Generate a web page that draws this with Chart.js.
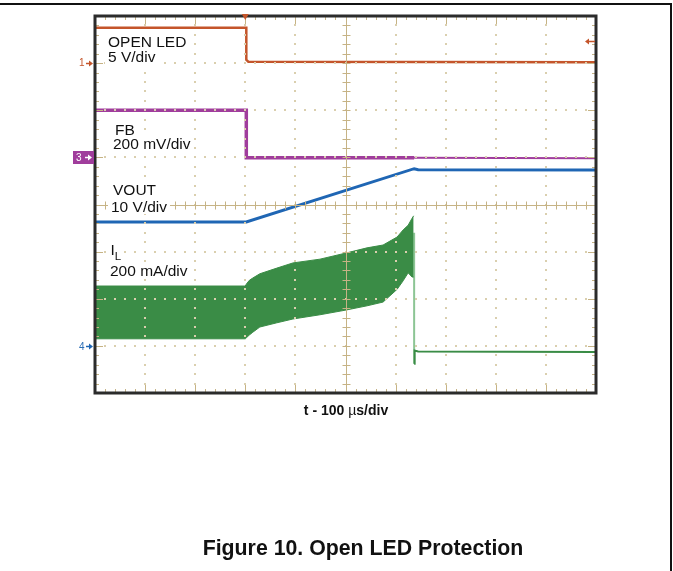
<!DOCTYPE html>
<html>
<head>
<meta charset="utf-8">
<script src="https://cdn.jsdelivr.net/npm/chart.js@4"></script>
<style>
  body { margin: 0; background: #fff; }
  #wrap { position: relative; width: 673px; height: 571px; overflow: hidden; font-family: Arial, "Liberation Sans", sans-serif; }
  #c { position: absolute; left: 0; top: 0; }
  .lbl { position: absolute; font-size: 15.5px; line-height: 15.5px; color: #111; background: #fff; padding: 0 3px; white-space: nowrap; }
  .lbl sub { font-size: 11.5px; vertical-align: -5px; line-height: 0; }
  .mk { position: absolute; font-size: 10px; line-height: 10px; }
  .rule-top { position: absolute; left: 0; top: 3px; width: 672px; height: 2px; background: #111; }
  .rule-right { position: absolute; left: 670px; top: 3px; width: 2px; height: 568px; background: #111; }
  #xtitle { position: absolute; left: 246px; width: 200px; top: 402px; text-align: center; font-weight: bold; font-size: 14px; line-height: 16px; color: #111; }
  #xtitle .mu { font-weight: normal; }
  #caption { position: absolute; left: 163px; width: 400px; top: 536px; text-align: center; font-weight: bold; font-size: 21.3px; line-height: 24px; color: #111; }
</style>
</head>
<body>
<div id="wrap">
  <canvas id="c" width="673" height="571"></canvas>
  <div class="rule-top"></div>
  <div class="rule-right"></div>

  <div class="lbl" style="left:105px;top:33.6px">OPEN LED</div>
  <div class="lbl" style="left:105px;top:49.1px">5 V/div</div>
  <div class="lbl" style="left:112px;top:121.5px">FB</div>
  <div class="lbl" style="left:110px;top:136.2px">200 mV/div</div>
  <div class="lbl" style="left:110px;top:182px">VOUT</div>
  <div class="lbl" style="left:108px;top:198.6px">10 V/div</div>
  <div class="lbl" style="left:107.5px;top:242.2px">I<sub>L</sub></div>
  <div class="lbl" style="left:107px;top:263px">200 mA/div</div>

  <div class="mk" style="left:79px;top:58px;color:#c4552b">1</div>
  <div class="mk" style="left:76px;top:153px;color:#fff">3</div>
  <div class="mk" style="left:79px;top:342px;color:#2a6db5">4</div>

  <div id="xtitle">t - 100 <span class="mu">&micro;</span>s/div</div>
  <div id="caption">Figure 10. Open LED Protection</div>
</div>
<script>
  // time in µs (trigger at 0), amplitude in screen divisions from the centre line
  const openLedTime = [-300, 2, 2, 6, 700];
  const openLedDiv  = [3.75, 3.75, 3.07, 3.03, 3.02];

  const fbTime = [-300, 2, 2, 337, 700];
  const fbDiv  = [2.0, 2.0, 0.99, 0.99, 0.98];

  const voutTime = [-300, 2, 337, 345, 700];
  const voutDiv  = [-0.37, -0.37, 0.76, 0.74, 0.73];

  const ilTime     = [-300, 0, 2, 8, 15, 29, 63, 95, 149, 201, 243, 275, 303, 315, 325, 333, 336];
  const ilUpperDiv = [-1.73, -1.73, -1.69, -1.61, -1.56, -1.47, -1.35, -1.24, -1.16, -1.03, -0.92, -0.86, -0.69, -0.54, -0.44, -0.29, -0.24];
  const ilLowerDiv = [-2.85, -2.85, -2.83, -2.77, -2.71, -2.60, -2.51, -2.43, -2.34, -2.24, -2.15, -2.07, -1.80, -1.62, -1.45, -1.54, -1.54];

  const ilOffTime = [337, 337, 338, 345, 700];
  const ilOffDiv  = [-0.6, -3.38, -3.10, -3.12, -3.13];

  const xTicks = [-300, -200, -100, 0, 100, 200, 300, 400, 500, 600, 700];
  const yTicks = [-4, -3, -2, -1, 0, 1, 2, 3, 4];

  const ORANGE = '#c4552b', PURPLE = '#a03d9c', BLUE = '#1f66b4', GREEN = '#3a8c46';
  const TAN = '#c6b385', DOT = '#dacfae';

  const pts = (xs, ys) => xs.map((t, i) => ({x: t, y: ys[i]}));

  function arrowRight(ctx, x0, x1, y, col){
    ctx.strokeStyle = col; ctx.fillStyle = col; ctx.lineWidth = 1.5;
    ctx.beginPath(); ctx.moveTo(x0, y); ctx.lineTo(x1 - 3, y); ctx.stroke();
    ctx.beginPath(); ctx.moveTo(x1, y); ctx.lineTo(x1 - 4, y - 3); ctx.lineTo(x1 - 4, y + 3); ctx.closePath(); ctx.fill();
  }

  const scopePlugin = {
    id: 'scope',
    afterDatasetsDraw(chart){
      const {ctx, chartArea: a, scales: {x, y}} = chart;
      ctx.save();
      const minorX = [], minorY = [];
      for(let i = 0; i <= 50; i++) minorX.push(-300 + i * 20);
      for(let i = 0; i <= 40; i++) minorY.push(-4 + i * 0.2);

      // dotted graticule
      ctx.fillStyle = DOT;
      xTicks.slice(1, -1).forEach(t => {
        if(t === 200) return;
        const px = Math.round(x.getPixelForValue(t));
        minorY.forEach(v => ctx.fillRect(px - 1, Math.round(y.getPixelForValue(v)) - 1, 2, 2));
      });
      yTicks.slice(1, -1).forEach(v => {
        if(v === 0) return;
        const py = Math.round(y.getPixelForValue(v));
        minorX.forEach(t => ctx.fillRect(Math.round(x.getPixelForValue(t)) - 1, py - 1, 2, 2));
      });

      // centre cross with ticks
      const cx = Math.round(x.getPixelForValue(200)) + 0.5;
      const cy = Math.round(y.getPixelForValue(0)) + 0.5;
      ctx.strokeStyle = TAN; ctx.lineWidth = 1;
      ctx.beginPath();
      ctx.moveTo(cx, a.top); ctx.lineTo(cx, a.bottom);
      ctx.moveTo(a.left, cy); ctx.lineTo(a.right, cy);
      minorY.forEach(v => { const py = Math.round(y.getPixelForValue(v)) + 0.5; ctx.moveTo(cx - 4, py); ctx.lineTo(cx + 4, py); });
      minorX.forEach(t => { const px = Math.round(x.getPixelForValue(t)) + 0.5; ctx.moveTo(px, cy - 4); ctx.lineTo(px, cy + 4); });
      // edge ticks
      minorX.forEach((t, i) => {
        const px = Math.round(x.getPixelForValue(t)) + 0.5;
        const len = i % 5 === 0 ? 8 : 4;
        ctx.moveTo(px, a.top); ctx.lineTo(px, a.top + len);
        ctx.moveTo(px, a.bottom); ctx.lineTo(px, a.bottom - len);
      });
      minorY.forEach((v, i) => {
        const py = Math.round(y.getPixelForValue(v)) + 0.5;
        const len = i % 5 === 0 ? 8 : 4;
        ctx.moveTo(a.left, py); ctx.lineTo(a.left + len, py);
        ctx.moveTo(a.right, py); ctx.lineTo(a.right - len, py);
      });
      ctx.stroke();

      // frame
      ctx.strokeStyle = '#2b2b2b'; ctx.lineWidth = 3;
      ctx.strokeRect(a.left, a.top, a.width, a.height);

      // channel markers
      arrowRight(ctx, 86, 93, Math.round(y.getPixelForValue(3)) + 0.5, ORANGE);
      const y3 = Math.round(y.getPixelForValue(1)) + 0.5;
      ctx.fillStyle = PURPLE; ctx.fillRect(73, y3 - 6.5, 21, 13);
      arrowRight(ctx, 85, 92, y3, '#fff');
      arrowRight(ctx, 86, 93, Math.round(y.getPixelForValue(-3)) + 0.5, BLUE);

      // trigger level (right) and trigger position (top)
      const yt = Math.round(y.getPixelForValue(3.47)) + 0.5;
      ctx.strokeStyle = ORANGE; ctx.fillStyle = ORANGE; ctx.lineWidth = 1.5;
      ctx.beginPath(); ctx.moveTo(589, yt); ctx.lineTo(595, yt); ctx.stroke();
      ctx.beginPath(); ctx.moveTo(585, yt); ctx.lineTo(589, yt - 3); ctx.lineTo(589, yt + 3); ctx.closePath(); ctx.fill();
      const xt = x.getPixelForValue(0);
      ctx.beginPath(); ctx.moveTo(xt - 3.5, a.top - 2); ctx.lineTo(xt + 3.5, a.top - 2); ctx.lineTo(xt, a.top + 4); ctx.closePath(); ctx.fill();
      ctx.restore();
    }
  };

  new Chart(document.getElementById('c'), {
    type: 'line',
    data: {
      datasets: [
        { label: 'IL low', data: pts(ilTime, ilLowerDiv), borderColor: GREEN, borderWidth: 1, fill: false },
        { label: 'IL', data: pts(ilTime, ilUpperDiv), borderColor: GREEN, borderWidth: 1, backgroundColor: GREEN, fill: '-1' },
        { label: 'IL off', data: pts(ilOffTime, ilOffDiv), borderColor: GREEN, borderWidth: 2,
          segment: { borderColor: c => c.p0.parsed.x === c.p1.parsed.x ? '#8cc594' : GREEN } },
        { label: 'VOUT', data: pts(voutTime, voutDiv), borderColor: BLUE, borderWidth: 3 },
        { label: 'FB', data: pts(fbTime, fbDiv), borderColor: PURPLE, borderWidth: 2,
          segment: { borderWidth: c => c.p0.parsed.x < 337 ? 3.5 : 2 } },
        { label: 'OPEN LED', data: pts(openLedTime, openLedDiv), borderColor: ORANGE, borderWidth: 2.5 }
      ]
    },
    options: {
      responsive: false,
      animation: false,
      elements: { point: { radius: 0 }, line: { tension: 0 } },
      layout: { padding: { left: 95, right: 77, top: 16, bottom: 178 } },
      plugins: { legend: { display: false }, tooltip: { enabled: false } },
      scales: {
        x: { type: 'linear', min: -300, max: 700, display: false },
        y: { type: 'linear', min: -4, max: 4, display: false }
      }
    },
    plugins: [scopePlugin]
  });
</script>
</body>
</html>
